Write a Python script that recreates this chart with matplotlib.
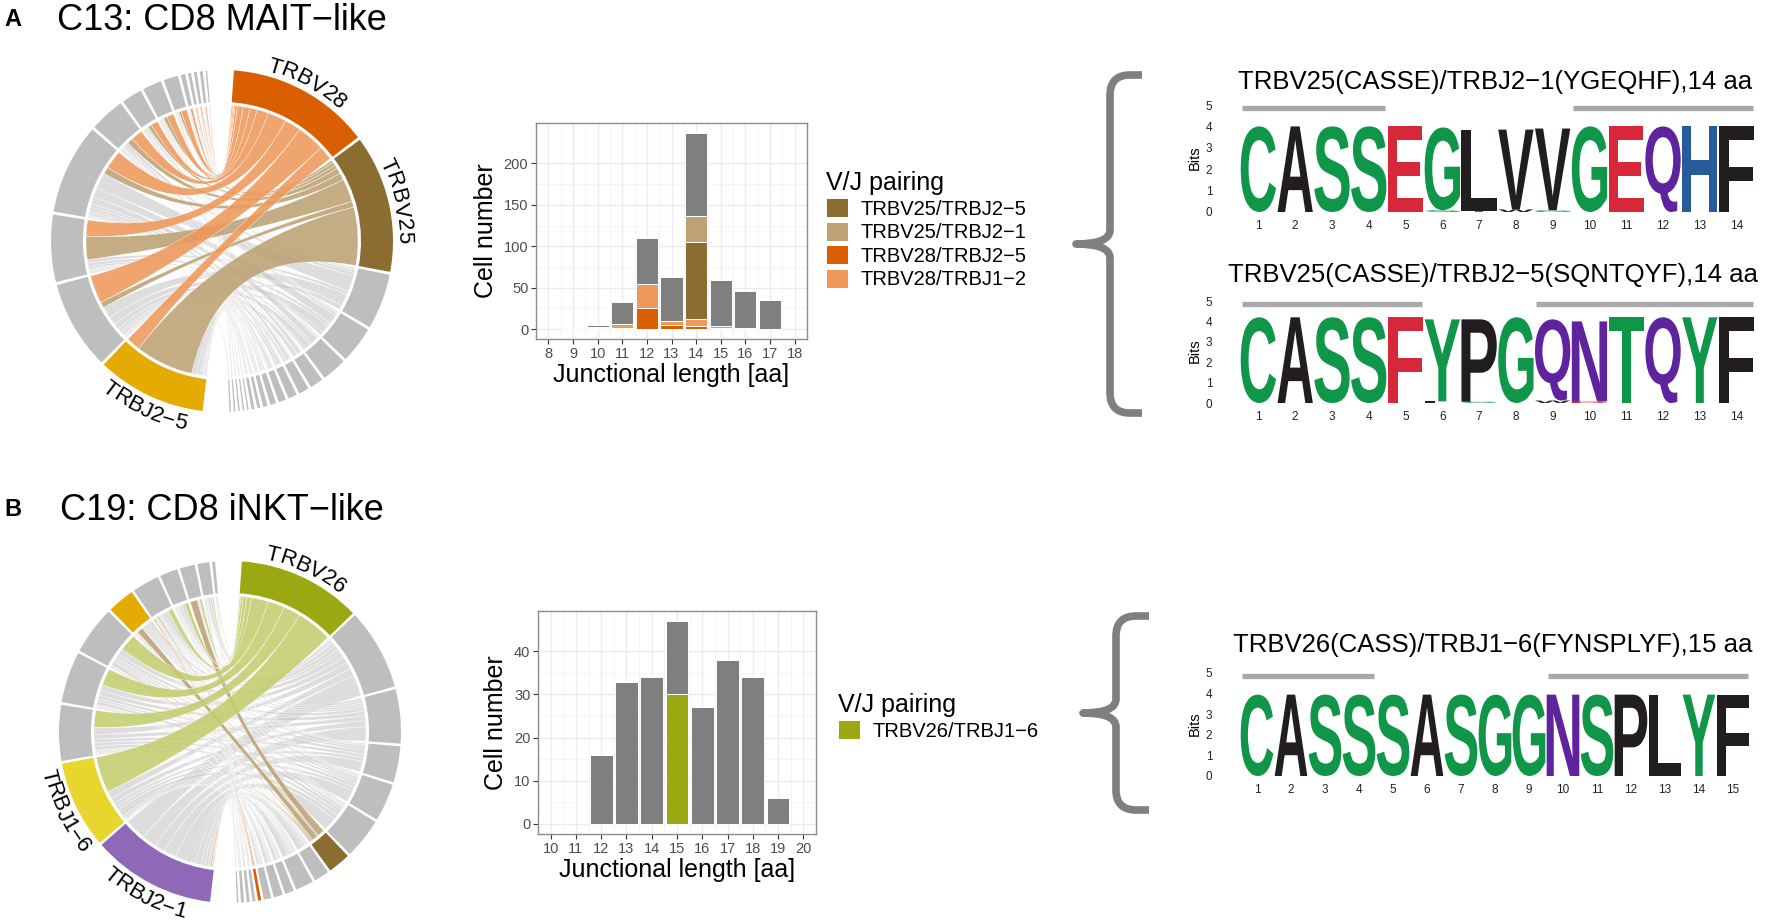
import numpy as np
import matplotlib
matplotlib.use('Agg')
import matplotlib.pyplot as plt
from matplotlib.path import Path
from matplotlib.patches import PathPatch, Wedge, Patch
from matplotlib.textpath import TextPath, text_to_path
from matplotlib.font_manager import FontProperties

plt.rcParams['font.family'] = ['Liberation Sans', 'DejaVu Sans']

W, H = 1772, 924
M = '\u2212'
GREY = '#BEBEBE'

# ---------------- panel A: chord (V genes x J genes) ----------------
a_v_names = ['TRBV28', 'TRBV25'] + [''] * 16
a_v_cols = ['#D95F02', '#8C6D31'] + [GREY] * 16
a_j_names = ['TRBJ2' + M + '5'] + [''] * 12
a_j_cols = ['#E6AB02'] + [GREY] * 12
a_links = [
    [12, 24, 14, 16, 10, 6, 6, 5, 2, 1, 1, 1, 0],
    [50, 5, 20, 6, 5, 3, 3, 2, 0, 0, 0, 0, 0],
    [4, 10, 3, 14, 3, 2, 1, 1, 0, 0, 0, 0, 0],
    [3, 7, 3, 8, 2, 1, 1, 0, 0, 0, 0, 0, 0],
    [2, 5, 2, 6, 1, 0, 1, 0, 0, 0, 0, 0, 0],
    [1, 3, 1, 3, 1, 0, 0, 0, 0, 0, 0, 0, 0],
    [0, 2, 1, 3, 0, 1, 0, 0, 0, 0, 0, 0, 0],
    [1, 2, 0, 2, 1, 0, 0, 0, 0, 0, 0, 0, 0],
    [0, 1, 1, 2, 0, 0, 0, 1, 0, 0, 0, 0, 0],
    [1, 0, 0, 1, 0, 1, 1, 0, 0, 0, 0, 0, 0],
    [0, 1, 0, 0, 1, 0, 0, 1, 0, 0, 0, 0, 0],
    [0, 0, 1, 1, 0, 0, 0, 0, 0, 0, 0, 0, 0],
    [1, 0, 0, 0, 0, 0, 0, 0, 1, 0, 0, 0, 0],
    [0, 0, 0, 0, 0, 0, 0, 0, 0, 1, 0, 0, 0],
    [0, 0, 0, 0, 0, 0, 0, 0, 0, 0, 1, 0, 0],
    [0, 0, 0, 0, 0, 0, 0, 0, 0, 0, 0, 1, 0],
    [0, 0, 0, 0, 0, 0, 0, 0, 0, 0, 0, 0, 1],
    [0, 1, 0, 0, 0, 0, 0, 0, 0, 0, 0, 0, 0],
]

# ---------------- panel B: chord ----------------
b_v_names = ['TRBV26'] + [''] * 16
b_v_cols = ['#9CA812'] + [GREY] * 5 + ['#8C6D31'] + [GREY] * 5 + ['#D95F02'] + [GREY] * 4
b_j_names = ['TRBJ2' + M + '1', 'TRBJ1' + M + '6'] + [''] * 9
b_j_cols = ['#8D69B8', '#E8D52E'] + [GREY] * 3 + ['#E6AB02'] + [GREY] * 5
b_links = [
    [0, 30, 14, 14, 14, 0, 4, 3, 2, 1, 0],
    [18, 6, 6, 5, 5, 3, 4, 3, 1, 2, 1],
    [12, 5, 4, 4, 3, 2, 2, 2, 0, 2, 0],
    [9, 3, 3, 3, 2, 2, 1, 1, 0, 0, 0],
    [10, 3, 3, 2, 2, 2, 1, 1, 0, 1, 0],
    [11, 4, 3, 3, 2, 1, 1, 1, 1, 0, 0],
    [1, 1, 0, 0, 1, 5, 1, 0, 6, 0, 0],
    [5, 2, 1, 1, 1, 0, 0, 0, 0, 0, 0],
    [5, 2, 1, 1, 1, 1, 1, 0, 0, 0, 0],
    [3, 0, 1, 0, 1, 0, 1, 0, 0, 0, 0],
    [3, 1, 0, 1, 0, 1, 0, 0, 0, 0, 0],
    [2, 1, 1, 0, 0, 0, 1, 0, 0, 0, 0],
    [1, 0, 0, 0, 0, 0, 1, 0, 0, 0, 0],
    [1, 0, 0, 0, 0, 0, 0, 1, 0, 0, 0],
    [1, 0, 0, 0, 0, 0, 0, 0, 0, 1, 0],
    [0, 0, 0, 0, 0, 1, 0, 0, 0, 1, 0],
    [0, 0, 0, 0, 0, 0, 0, 0, 0, 0, 1],
]

link_cols = {'#D95F02': '#EE985A', '#8C6D31': '#BCA274', '#9CA812': '#C4CC6E'}

# ---------------- bar charts ----------------
a_len = list(range(8, 19))
a_pairs = ['TRBV28/TRBJ2' + M + '5', 'TRBV28/TRBJ1' + M + '2',
           'TRBV25/TRBJ2' + M + '5', 'TRBV25/TRBJ2' + M + '1']
a_pair_cols = ['#D95F02', '#EE985A', '#8C6D31', '#BCA274']
a_legend_order = [2, 3, 0, 1]
a_counts = [
    [0, 0, 2, 1, 25, 5, 4, 1, 0, 0, 0],
    [0, 0, 1, 5, 30, 5, 8, 0, 0, 0, 0],
    [0, 0, 0, 0, 0, 0, 93, 1, 1, 0, 0],
    [0, 0, 0, 0, 0, 0, 32, 2, 0, 0, 0],
]
a_other = [0, 1, 2, 27, 55, 53, 100, 55, 45, 35, 0]

b_len = list(range(10, 21))
b_pairs = ['TRBV26/TRBJ1' + M + '6']
b_pair_cols = ['#9CA812']
b_counts = [[0, 0, 0, 0, 0, 30, 0, 0, 0, 0, 0]]
b_other = [0, 0, 16, 33, 34, 17, 27, 38, 34, 6, 0]

# ---------------- sequence logos ----------------
logo_titles = ['TRBV25(CASSE)/TRBJ2' + M + '1(YGEQHF),14 aa',
               'TRBV25(CASSE)/TRBJ2' + M + '5(SQNTQYF),14 aa',
               'TRBV26(CASS)/TRBJ1' + M + '6(FYNSPLYF),15 aa']
logo_seqs = ['CASSEGLVVGEQHF', 'CASSFYPGQNTQYF', 'CASSSASGGNSPLYF']
logo_tops = [
    [4.0, 4.0, 4.0, 4.0, 4.0, 3.95, 3.85, 3.85, 3.9, 4.0, 4.0, 4.0, 4.0, 4.0],
    [4.2, 4.2, 4.2, 4.2, 4.2, 4.1, 4.1, 4.2, 4.1, 4.0, 4.2, 4.2, 4.2, 4.2],
    [3.95, 3.95, 3.95, 3.95, 3.95, 3.95, 3.95, 3.95, 3.95, 3.95, 3.95, 3.95, 3.95, 3.95, 3.95],
]
logo_minor = [
    {6: ('S', 0.08), 7: ('T', 0.06), 8: ('W', 0.12), 9: ('G', 0.08)},
    {6: ('L', 0.08), 7: ('S', 0.06), 9: ('W', 0.12), 10: ('D', 0.1)},
    {},
]
logo_color_fix = [{}, {5: '#D62839'}, {}]
logo_bars = [[(0.55, 4.45), (9.55, 14.45)],
             [(0.55, 5.45), (8.55, 14.45)],
             [(0.55, 4.45), (9.55, 15.45)]]

chem = {}
for c in 'CGSTY':
    chem[c] = '#109648'
for c in 'QN':
    chem[c] = '#5E239D'
for c in 'KRH':
    chem[c] = '#255C99'
for c in 'DE':
    chem[c] = '#D62839'

fig = plt.figure(figsize=(W / 100, H / 100), dpi=100)


def px_axes(left, top, width, height):
    return fig.add_axes([left / W, 1 - (top + height) / H, width / W, height / H])


R_OUT, R_IN, R_LINK = 171, 139, 136


def ribbon(a1, a2, b1, b2, r):
    t1 = np.radians(np.linspace(a1, a2, 10))
    t2 = np.radians(np.linspace(b1, b2, 10))
    verts = [(r * np.cos(t), r * np.sin(t)) for t in t1]
    codes = [Path.MOVETO] + [Path.LINETO] * 9
    verts += [(0, 0), (r * np.cos(t2[0]), r * np.sin(t2[0]))]
    codes += [Path.CURVE3, Path.CURVE3]
    verts += [(r * np.cos(t), r * np.sin(t)) for t in t2[1:]]
    codes += [Path.LINETO] * 9
    verts += [(0, 0), verts[0]]
    codes += [Path.CURVE3, Path.CURVE3]
    return Path(verts, codes)


def arc_label(ax, text, theta, fs=16):
    fp = FontProperties(family='Liberation Sans', size=fs)
    px = 100 / 72

    def tw(s):
        if not s:
            return 0.0
        return text_to_path.get_text_width_height_descent(s, fp, ismath=False)[0] * px

    total = tw(text)
    cap = fs * px * 0.72
    outward = np.sin(np.radians(theta)) > -0.3
    r = R_OUT + 5 if outward else R_OUT + 5 + cap
    for i, ch in enumerate(text):
        s = (tw(text[:i]) + tw(text[:i + 1])) / 2 - total / 2
        if outward:
            a = theta - np.degrees(s / r)
            rot = a - 90
        else:
            a = theta + np.degrees(s / r)
            rot = a + 90
        ax.text(r * np.cos(np.radians(a)), r * np.sin(np.radians(a)), ch,
                fontsize=fs, rotation=rot, ha='center', va='baseline',
                rotation_mode='anchor', color='black')


def chord(ax, links, v_names, j_names, v_cols, j_cols, start, gap, big_gap):
    links = np.array(links, float)
    v_size, j_size = links.sum(1), links.sum(0)
    nv, nj = len(v_size), len(j_size)
    k = (360 - 2 * big_gap - gap * (nv - 1 + nj - 1)) / (v_size.sum() + j_size.sum())
    ang = start
    v_start = []
    for s in v_size:
        v_start.append(ang)
        ang -= s * k + gap
    ang += gap - big_gap
    j_start = []
    for s in j_size:
        j_start.append(ang)
        ang -= s * k + gap

    v_pos, j_pos = {}, {}
    for i in range(nv):
        p = v_start[i]
        for j in reversed(range(nj)):
            if links[i, j] > 0:
                v_pos[(i, j)] = p
                p -= links[i, j] * k
    for j in range(nj):
        p = j_start[j]
        for i in reversed(range(nv)):
            if links[i, j] > 0:
                j_pos[(i, j)] = p
                p -= links[i, j] * k

    grey_rows = [i for i in range(nv) if v_cols[i] == GREY]
    col_rows = [i for i in reversed(range(nv)) if v_cols[i] != GREY]
    for i in grey_rows + col_rows:
        grey = v_cols[i] == GREY
        for j in range(nj):
            w = links[i, j]
            if w == 0:
                continue
            a0 = v_pos[(i, j)]
            b0 = j_pos[(i, j)]
            p = ribbon(a0, a0 - w * k, b0, b0 - w * k, R_LINK)
            if grey:
                ax.add_patch(PathPatch(p, fc='#C2C2C2', alpha=0.55,
                                       ec='white', lw=0.5))
            else:
                ax.add_patch(PathPatch(p, fc=link_cols[v_cols[i]], alpha=0.88,
                                       ec=(1, 1, 1, 0.4), lw=0.3))

    for starts, sizes, cols, names in ((v_start, v_size, v_cols, v_names),
                                       (j_start, j_size, j_cols, j_names)):
        for a, s, c, nm in zip(starts, sizes, cols, names):
            ax.add_patch(Wedge((0, 0), R_OUT, a - s * k, a,
                               width=R_OUT - R_IN, fc=c, ec='none'))
            if nm:
                arc_label(ax, nm, a - s * k / 2)


# overlay for braces
ov = fig.add_axes([0, 0, 1, 1])
ov.set_xlim(0, W)
ov.set_ylim(H, 0)
ov.axis('off')


def brace(x_end, x_v, x_c, y_top, y_bot, r=20, rc=14):
    y_c = (y_top + y_bot) / 2
    verts = [(x_end, y_top), (x_v + r, y_top), (x_v, y_top), (x_v, y_top + r),
             (x_v, y_c - rc), (x_v, y_c), (x_c, y_c),
             (x_v, y_c), (x_v, y_c + rc),
             (x_v, y_bot - r), (x_v, y_bot), (x_v + r, y_bot), (x_end, y_bot)]
    codes = [Path.MOVETO, Path.LINETO, Path.CURVE3, Path.CURVE3, Path.LINETO,
             Path.CURVE3, Path.CURVE3, Path.CURVE3, Path.CURVE3, Path.LINETO,
             Path.CURVE3, Path.CURVE3, Path.LINETO]
    ov.add_patch(PathPatch(Path(verts, codes), fc='none', ec='#7F7F7F',
                           lw=5.5, capstyle='butt', joinstyle='round'))


brace(1142, 1110, 1076, 75, 413)
brace(1149, 1116, 1083, 616, 810)

# chord axes
axA = px_axes(22, 41, 400, 400)
axA.set_xlim(-200, 200)
axA.set_ylim(-200, 200)
axA.axis('off')
chord(axA, a_links, a_v_names, a_j_names, a_v_cols, a_j_cols, 86, 1.0, 9.0)

axB = px_axes(30, 532, 400, 392)
axB.set_xlim(-200, 200)
axB.set_ylim(-192, 200)
axB.axis('off')
chord(axB, b_links, b_v_names, b_j_names, b_v_cols, b_j_cols, 86, 0.9, 9.0)


def bar_panel(ax, lens, counts, cols, other, ylim, yticks):
    lens = np.array(lens)
    bottom = np.zeros(len(lens))
    for cnt, c in zip(counts + [other], cols + ['#7F7F7F']):
        cnt = np.array(cnt, float)
        m = cnt > 0
        ax.bar(lens[m], cnt[m], bottom=bottom[m], width=0.9, color=c,
               edgecolor='white', linewidth=0.7, zorder=3)
        bottom += cnt
    ax.set_xlim(lens[0] - 0.5, lens[-1] + 0.5)
    ax.set_ylim(*ylim)
    ax.set_xticks(lens)
    ax.set_xticks(lens[:-1] + 0.5, minor=True)
    ax.set_yticks(yticks)
    ax.set_yticks(np.array(yticks[:-1]) + (yticks[1] - yticks[0]) / 2, minor=True)
    ax.grid(which='major', color='#EBEBEB', lw=1.0, zorder=0)
    ax.grid(which='minor', color='#F4F4F4', lw=0.6, zorder=0)
    ax.tick_params(which='major', length=3.5, width=0.8, color='#333333',
                   labelsize=10.5, labelcolor='#4D4D4D', pad=2)
    ax.tick_params(which='minor', length=0)
    for s in ax.spines.values():
        s.set_color('#8C8C8C')
        s.set_linewidth(1.0)
    ax.set_axisbelow(True)
    ax.set_ylabel('Cell number', fontsize=18, labelpad=4)
    ax.set_xlabel('Junctional length [aa]', fontsize=18, labelpad=2)


axBar1 = px_axes(536, 123, 271, 216)
bar_panel(axBar1, a_len, a_counts, a_pair_cols, a_other, (-11.85, 248.85),
          [0, 50, 100, 150, 200])
h1 = [Patch(fc=a_pair_cols[i], ec='white', lw=0.7) for i in a_legend_order]
fig.legend(h1, [a_pairs[i] for i in a_legend_order], title='V/J pairing',
           loc='upper left', bbox_to_anchor=(826 / W, 1 - 171 / H),
           frameon=False, fontsize=14.5, title_fontsize=18, handlelength=1.1,
           handleheight=1.1, handletextpad=0.6, labelspacing=0.15,
           alignment='left', borderpad=0, borderaxespad=0)

axBar2 = px_axes(538, 611, 278, 223)
bar_panel(axBar2, b_len, b_counts, b_pair_cols, b_other, (-2.35, 49.35),
          [0, 10, 20, 30, 40])
h2 = [Patch(fc=c, ec='white', lw=0.7) for c in b_pair_cols]
fig.legend(h2, b_pairs, title='V/J pairing', loc='upper left',
           bbox_to_anchor=(838 / W, 1 - 693 / H), frameon=False, fontsize=14.5,
           title_fontsize=18, handlelength=1.1, handleheight=1.1,
           handletextpad=0.6, labelspacing=0.15, alignment='left',
           borderpad=0, borderaxespad=0)

# logos
LOGO_FP = FontProperties(family='Liberation Sans', weight='bold')


def letter(ax, ch, x, y0, y1, col):
    tp = TextPath((0, 0), ch, size=1, prop=LOGO_FP)
    bb = tp.get_extents()
    v = tp.vertices.copy()
    v[:, 0] = (v[:, 0] - bb.x0) / bb.width * 0.96 + x - 0.48
    v[:, 1] = (v[:, 1] - bb.y0) / bb.height * (y1 - y0) + y0
    ax.add_patch(PathPatch(Path(v, tp.codes), fc=col, ec='none', lw=0))


logo_px = [(1240, 1755, 212, 21.4), (1240, 1755, 403, 20.4), (1240, 1750, 776, 20.6)]
title_px = [(1495, 82), (1493, 275), (1493, 645)]
for n in range(3):
    left, right, zero, ppb = logo_px[n]
    seq = logo_seqs[n]
    ax = px_axes(left, zero - 5.2 * ppb, right - left, 5.3 * ppb)
    ax.set_xlim(0.5, len(seq) + 0.5)
    ax.set_ylim(-0.1, 5.2)
    for i, ch in enumerate(seq):
        pos = i + 1
        base = 0.0
        if pos in logo_minor[n]:
            mch, mh = logo_minor[n][pos]
            letter(ax, mch, pos, 0.0, mh, chem.get(mch, '#221E1F'))
            base = mh
        col = logo_color_fix[n].get(pos, chem.get(ch, '#221E1F'))
        letter(ax, ch, pos, base, logo_tops[n][i], col)
    for x0, x1 in logo_bars[n]:
        ax.plot([x0, x1], [4.85, 4.85], color='#A9A9A9', lw=3.8,
                solid_capstyle='butt')
    ax.set_xticks(range(1, len(seq) + 1))
    ax.set_yticks(range(0, 6))
    ax.tick_params(length=0, labelsize=8.5, labelcolor='#222222')
    ax.tick_params(axis='y', pad=20)
    ax.tick_params(axis='x', pad=4)
    for s in ax.spines.values():
        s.set_visible(False)
    ax.set_ylabel('Bits', fontsize=10.5, labelpad=3)
    fig.text(title_px[n][0] / W, 1 - title_px[n][1] / H, logo_titles[n],
             fontsize=18.5, ha='center', va='center')

# panel headings
fig.text(4 / W, 1 - 20 / H, 'A', fontsize=17, fontweight='bold', va='center')
fig.text(57 / W, 1 - 20 / H, 'C13: CD8 MAIT' + M + 'like', fontsize=26, va='center')
fig.text(4 / W, 1 - 510 / H, 'B', fontsize=17, fontweight='bold', va='center')
fig.text(60 / W, 1 - 510 / H, 'C19: CD8 iNKT' + M + 'like', fontsize=26, va='center')

fig.savefig('out.png', dpi=100)
